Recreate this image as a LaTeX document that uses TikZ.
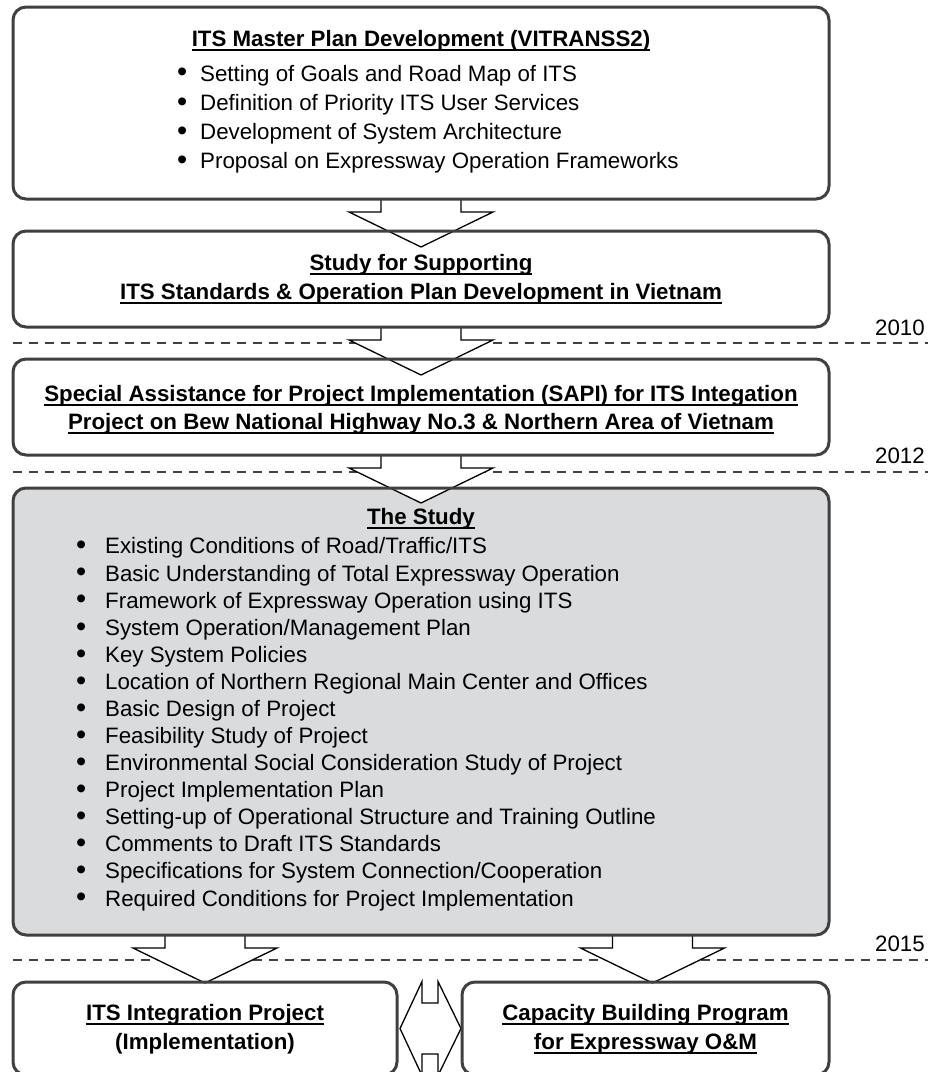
\documentclass[tikz,border=0pt]{standalone}
\usepackage{fontspec}
\usepackage{graphicx}
\setmainfont{Liberation Sans}
\definecolor{edge}{HTML}{404040}
\definecolor{studyfill}{HTML}{DADBDD}
\newcommand\bodyfont{\fontsize{22.3}{26}\selectfont}
% underlined heading text with a heavy rule
\newsavebox\headbox
\newcommand\head[1]{\sbox\headbox{#1}\rlap{\rule[-4.5pt]{\wd\headbox}{2pt}}\usebox\headbox}
% list bullet in a box of given width
\newcommand\dotmark[1]{\makebox[#1][l]{\raisebox{-0.8pt}{\scalebox{1.3}{•}}}}
\tikzset{
  boxbase/.style={rectangle, rounded corners=13pt, inner sep=0pt, outer sep=0pt},
  boxedge/.style={draw=edge, line width=3pt, rounded corners=13pt},
  title/.style={font=\bodyfont\bfseries, inner sep=0pt, anchor=base},
  item/.style={font=\bodyfont, inner sep=0pt, anchor=base west},
  year/.style={font=\bodyfont, inner sep=0pt, anchor=base east},
  period/.style={draw=edge, line width=1.5pt, dash pattern=on 9pt off 7pt},
  blockarrow/.style={draw=black, fill=white, line width=1.3pt, line join=miter}
}
% wide block arrow pointing down, hanging from a box edge
\newcommand\downblock[1]{(#1) ++(-40,0) -- ++(0,13) -- ++(-32,0) -- ++(72,35) -- ++(72,-35) -- ++(-32,0) -- ++(0,-13) -- cycle}
\begin{document}
\begin{tikzpicture}[x=1pt,y=-1pt]
\useasboundingbox (0,0) rectangle (928,1072);

% box bodies
\node[boxbase, fill=white, minimum width=816pt, minimum height=192pt] (plan) at (421,103) {};
\node[boxbase, fill=white, minimum width=816pt, minimum height=96pt] (support) at (421,279) {};
\node[boxbase, fill=white, minimum width=816pt, minimum height=96pt] (sapi) at (421,407) {};
\node[boxbase, fill=studyfill, minimum width=816pt, minimum height=447pt] (study) at (421,711.5) {};
\node[boxbase, fill=white, minimum width=384pt, minimum height=93pt] (itsproj) at (205,1028.5) {};
\node[boxbase, fill=white, minimum width=367pt, minimum height=93pt] (capacity) at (645.5,1028.5) {};

% year boundaries
\coordinate (y10a) at (13,343);  \coordinate (y10b) at (928,343);
\coordinate (y12a) at (13,472);  \coordinate (y12b) at (928,472);
\coordinate (y15a) at (13,960);  \coordinate (y15b) at (928,960);
\draw[period] (y10a) -- (y10b);
\draw[period] (y12a) -- (y12b);
\draw[period] (y15a) -- (y15b);
\node[year] (t2010) at (925,335) {2010};
\node[year] (t2012) at (925,463) {2012};
\node[year] (t2015) at (925,951) {2015};

% block arrows between stages
\draw[blockarrow] \downblock{plan.south};
\draw[blockarrow] \downblock{support.south};
\draw[blockarrow] \downblock{sapi.south};
\draw[blockarrow] \downblock{itsproj.north |- study.south};
\draw[blockarrow] \downblock{[xshift=7pt]capacity.north |- study.south};
% two-way arrow between the final stages
\draw[blockarrow] ([xshift=3pt]itsproj.east) -- ++(22,-47) -- ++(0,21.5) -- ++(16,0) -- ++(0,-21.5)
  -- ++(23,47) -- ++(-23,47) -- ++(0,-21.5) -- ++(-16,0) -- ++(0,21.5) -- cycle;

% box borders on top
\foreach \b in {plan,support,sapi,study,itsproj,capacity}
  \draw[boxedge] (\b.south west) rectangle (\b.north east);

% ITS master plan
\node[title] (plantitle) at (421,46) {\head{ITS Master Plan Development (VITRANSS2)}};
\foreach \t [count=\i] in {{Setting of Goals and Road Map of ITS},
  {Definition of Priority ITS User Services},
  {Development of System Architecture},
  {Proposal on Expressway Operation Frameworks}}
  \node[item] (pb\i) at (177,{51.7+29.3*\i}) {\dotmark{23pt}\t};

% supporting study
\node[title] (sup1) at (421,270) {\head{Study for Supporting}};
\node[title] (sup2) at (421,299) {\head{ITS Standards \& Operation Plan Development in Vietnam}};

% SAPI
\node[title] (sapi1) at (421,401) {\head{Special Assistance for Project Implementation (SAPI) for ITS Integation}};
\node[title] (sapi2) at (421,429) {\head{Project on Bew National Highway No.3 \& Northern Area of Vietnam}};

% the study
\node[title] (studytitle) at (421,524) {\head{The Study}};
\foreach \t [count=\i] in {{Existing Conditions of Road/Traffic/ITS},
  {Basic Understanding of Total Expressway Operation},
  {Framework of Expressway Operation using ITS},
  {System Operation/Management Plan},
  {Key System Policies},
  {Location of Northern Regional Main Center and Offices},
  {Basic Design of Project},
  {Feasibility Study of Project},
  {Environmental Social Consideration Study of Project},
  {Project Implementation Plan},
  {Setting-up of Operational Structure and Training Outline},
  {Comments to Draft ITS Standards},
  {Specifications for System Connection/Cooperation},
  {Required Conditions for Project Implementation}}
  \node[item] (sb\i) at (76,{526.9+27.08*\i}) {\dotmark{29pt}\t};

% final stages
\node[title] (proj1) at (205,1020) {\head{ITS Integration Project}};
\node[title] (proj2) at (205,1049) {(Implementation)};
\node[title] (cap1) at (645.5,1020) {\head{Capacity Building Program}};
\node[title] (cap2) at (645.5,1049) {\head{for Expressway O\&M}};
\end{tikzpicture}
\end{document}
